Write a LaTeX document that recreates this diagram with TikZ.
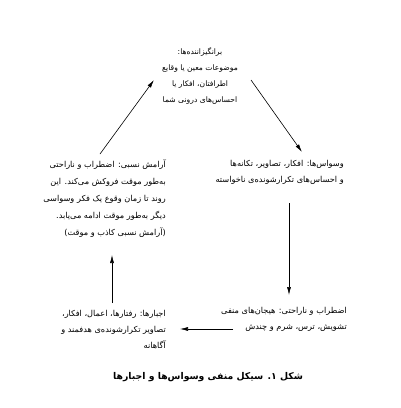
\documentclass[tikz,border=0pt]{standalone}
\usepackage{fontspec}
\TeXXeTstate=1
\newfontfamily\arabicfont[Script=Arabic]{DejaVu Sans}
\usetikzlibrary{arrows.meta}
\newcommand\fa[1]{\beginR #1\endR}
\begin{document}
\begin{tikzpicture}[x=1pt,y=-1pt,
  txt/.style={font=\arabicfont\fontsize{8.2}{16}\selectfont, inner sep=0pt},
  arr/.style={-{Latex[length=8pt,width=4pt]}, line width=0.6pt}]
\useasboundingbox[fill=white] (0,0) rectangle (400,408);
\node[txt, align=center, font=\arabicfont\fontsize{7.6}{16}\selectfont] (top) at (200,76) {\fa{برانگیزاننده‌ها:}\\\fa{موضوعات معین یا وقایع}\\\fa{اطرافتان، افکار یا}\\\fa{احساس‌های درونی شما}};
\node[txt, align=right, anchor=east] (obs) at (344,172) {\fa{وسواس‌ها: افکار، تصاویر، تکانه‌ها}\\\fa{و احساس‌های تکرارشونده‌ی ناخواسته}};
\node[txt, align=right, anchor=east] (anx) at (347,319) {\fa{اضطراب و ناراحتی: هیجان‌های منفی}\\\fa{تشویش، ترس، شرم و چندش}};
\node[txt, align=right, anchor=east] (comp) at (166,330) {\fa{اجبارها: رفتارها، اعمال، افکار،}\\\fa{تصاویر تکرارشونده‌ی هدفمند و}\\\fa{آگاهانه}};
\node[txt, align=right, anchor=east, font=\arabicfont\fontsize{8.2}{17}\selectfont] (rel) at (166,199) {\fa{آرامش نسبی: اضطراب و ناراحتی}\\\fa{به‌طور موقت فروکش می‌کند. این}\\\fa{روند تا زمان وقوع یک فکر وسواسی}\\\fa{دیگر به‌طور موقت ادامه می‌یابد.}\\\fa{(آرامش نسبی کاذب و موقت)}};
\node[inner sep=0pt, font=\arabicfont\bfseries\fontsize{9.3}{12}\selectfont] (cap) at (208,377) {\fa{شکل ۱. سیکل منفی وسواس‌ها و اجبارها}};
\coordinate (a1s) at (251,80); \coordinate (a1e) at (302,152);
\coordinate (a2s) at (289,203); \coordinate (a2e) at (289,295);
\coordinate (a3s) at (233,329); \coordinate (a3e) at (180,329);
\coordinate (a4s) at (112,303); \coordinate (a4e) at (112,255);
\coordinate (a5s) at (100,154); \coordinate (a5e) at (154,80);
\draw[arr] (a1s) -- (a1e);
\draw[arr] (a2s) -- (a2e);
\draw[arr] (a3s) -- (a3e);
\draw[arr] (a4s) -- (a4e);
\draw[arr] (a5s) -- (a5e);
\end{tikzpicture}
\end{document}
